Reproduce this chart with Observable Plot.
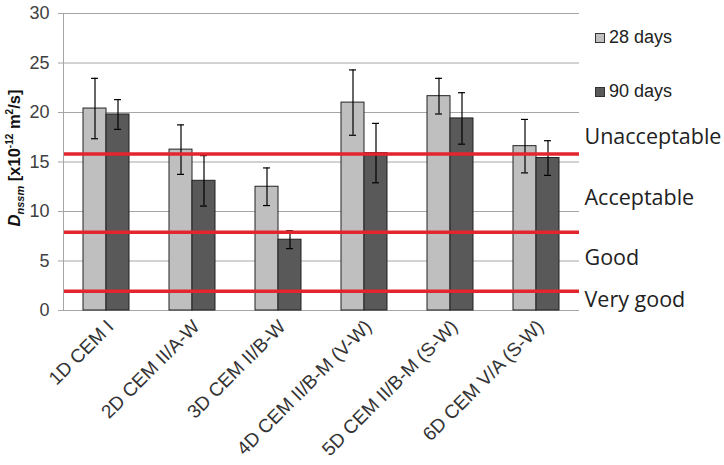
<!DOCTYPE html>
<html><head><meta charset="utf-8">
<script src="https://cdn.jsdelivr.net/npm/d3@7"></script>
<script src="https://cdn.jsdelivr.net/npm/@observablehq/plot@0.6"></script>
<style>
body{margin:0;background:#fff}
#wrap{position:relative;width:724px;height:465px}
.leg{position:absolute;left:595px;font:18px "Liberation Sans",Arial,sans-serif;color:#222;display:flex;align-items:center;white-space:nowrap}
.leg i{display:inline-block;width:8px;height:8px;border:1px solid #333;margin-right:4px}
</style></head>
<body><div id="wrap"></div>
<script>
const categories = ["1D CEM I","2D CEM II/A-W","3D CEM II/B-W","4D CEM II/B-M (V-W)","5D CEM II/B-M (S-W)","6D CEM V/A (S-W)"];
const seriesNames = ["28 days","90 days"];
const days28 = [20.4, 16.25, 12.5, 21.0, 21.65, 16.6];
const days90 = [19.8, 13.1, 7.15, 15.9, 19.4, 15.4];
const err28 = [3.05, 2.5, 1.9, 3.3, 1.8, 2.7];
const err90 = [1.5, 2.55, 0.9, 3.0, 2.6, 1.75];
const thresholds = [15.8, 7.9, 1.95];
const zoneNames = ["Unacceptable","Acceptable","Good","Very good"];
const zoneLabelY = [17.5, 11.4, 5.3, 1.1];
const yTicks = [0,5,10,15,20,25,30];
const colors = ["#bfbfbf","#595959"];

const rows = categories.flatMap((c,i)=>[
  {cat:c, series:seriesNames[0], v:days28[i], e:err28[i]},
  {cat:c, series:seriesNames[1], v:days90[i], e:err90[i]}
]);
const zones = zoneNames.map((t,i)=>({t, y:zoneLabelY[i]}));

const chart = Plot.plot({
  width:724, height:465,
  marginLeft:62, marginRight:144, marginTop:13, marginBottom:155,
  style:{fontFamily:'"Liberation Sans",Arial,sans-serif', fontSize:"16px", color:"#404040", background:"#fff"},
  fx:{domain:categories, padding:0, label:null, axis:null},
  x:{domain:seriesNames, axis:null, paddingInner:0, paddingOuter:0.8},
  y:{domain:[0,30], label:null},
  color:{domain:seriesNames, range:colors},
  marks:[
    Plot.ruleY(yTicks, {stroke:"#a6a6a6", strokeWidth:1}),
    Plot.barY(rows, {fx:"cat", x:"series", y:"v", fill:"series", stroke:"#222", strokeWidth:1}),
    Plot.ruleX(rows, {fx:"cat", x:"series", y1:d=>d.v-d.e, y2:d=>d.v+d.e, stroke:"#000", strokeWidth:1.2}),
    Plot.tickY(rows, {fx:"cat", x:"series", y:d=>d.v-d.e, stroke:"#000", strokeWidth:1.2, insetLeft:8, insetRight:8}),
    Plot.tickY(rows, {fx:"cat", x:"series", y:d=>d.v+d.e, stroke:"#000", strokeWidth:1.2, insetLeft:8, insetRight:8}),
    Plot.ruleY(thresholds, {stroke:"#e3262d", strokeWidth:3.5}),
    Plot.text(zones, {fx:()=>categories[categories.length-1], y:"y", text:"t", frameAnchor:"right", dx:5, textAnchor:"start", fontSize:21.5, fontFamily:'"Open Sans",sans-serif', fill:"#222"}),
    Plot.axisY({ticks:yTicks, tickSize:5, tickPadding:9, stroke:"#a6a6a6", fontSize:18, fill:"#404040"}),
    Plot.frame({anchor:"left", facetAnchor:"left", stroke:"#a6a6a6"}),
    Plot.axisFx({anchor:"bottom", tickRotate:-45, tickSize:0, tickPadding:13, dx:4, fontSize:19, fill:"#333", label:null})
  ]
});
const wrap = document.getElementById("wrap");
wrap.appendChild(chart);

// y-axis title with italic D and subscript/superscript
const svg = d3.select(chart);
const t = svg.append("text")
  .attr("transform","translate(20,158) rotate(-90)")
  .attr("text-anchor","middle")
  .attr("font-weight","bold").attr("font-size",16.5).attr("fill","#111")
  .attr("font-family",'"Liberation Sans",Arial,sans-serif');
t.append("tspan").attr("font-style","italic").text("D");
t.append("tspan").attr("font-style","italic").attr("font-size",11).attr("dy",4).text("nssm");
t.append("tspan").attr("dy",-4).text(" [x10");
t.append("tspan").attr("font-size",10).attr("dy",-7).text("-12");
t.append("tspan").attr("dy",7).text(" m");
t.append("tspan").attr("font-size",10).attr("dy",-7).text("2");
t.append("tspan").attr("dy",7).text("/s]");

// legend
seriesNames.forEach((s,i)=>{
  const d = document.createElement("div");
  d.className = "leg";
  d.style.top = (i===0 ? 27 : 81) + "px";
  d.innerHTML = `<i style="background:${colors[i]}"></i>${s}`;
  wrap.appendChild(d);
});
</script>
</body></html>
